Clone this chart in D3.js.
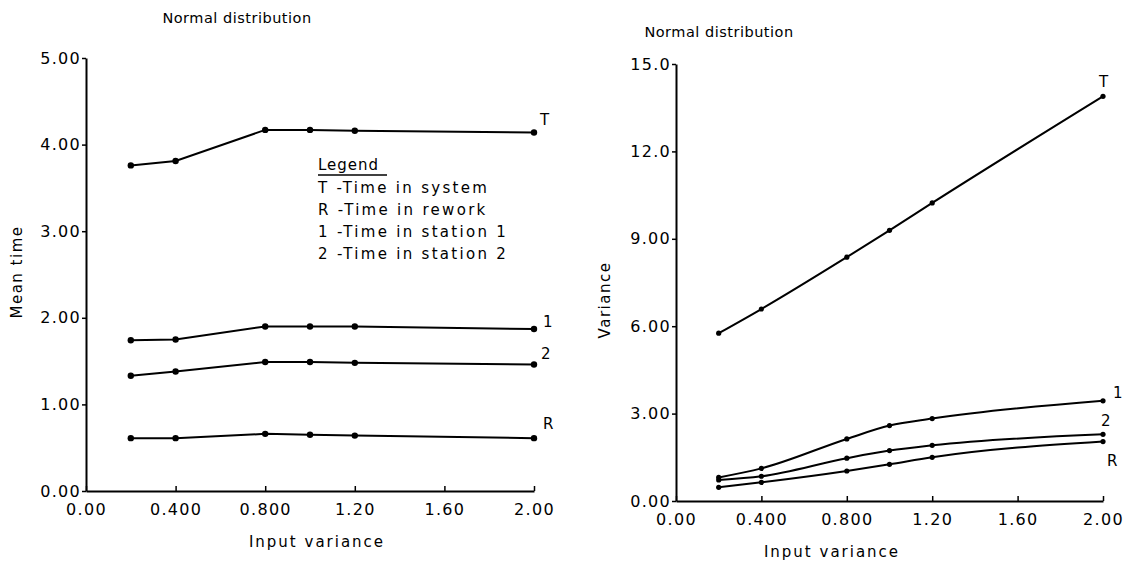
<!DOCTYPE html>
<html><head><meta charset="utf-8">
<script src="https://cdn.jsdelivr.net/npm/d3@7"></script>
<style>
body{margin:0;background:#fff;}
text{font-family:"DejaVu Sans",sans-serif;fill:#000;}
</style></head>
<body><svg id="c" width="1138" height="561"></svg>
<script>
// ---- data ----
const xValues = [0.2, 0.4, 0.8, 1.0, 1.2, 2.0];
const xTickValues = [0, 0.4, 0.8, 1.2, 1.6, 2.0];
const xTickLabels = ["0.00", "0.400", "0.800", "1.20", "1.60", "2.00"];

const meanT = [3.76, 3.81, 4.17, 4.17, 4.16, 4.14];
const mean1 = [1.74, 1.75, 1.90, 1.90, 1.90, 1.87];
const mean2 = [1.33, 1.38, 1.49, 1.49, 1.48, 1.46];
const meanR = [0.61, 0.61, 0.66, 0.65, 0.64, 0.61];
const meanYTicks = [0, 1, 2, 3, 4, 5];
const meanYLabels = ["0.00", "1.00", "2.00", "3.00", "4.00", "5.00"];

const varT = [5.76, 6.59, 8.37, 9.29, 10.23, 13.89];
const var1 = [0.81, 1.12, 2.13, 2.59, 2.83, 3.44];
const var2 = [0.72, 0.85, 1.47, 1.73, 1.91, 2.29];
const varR = [0.47, 0.64, 1.03, 1.26, 1.50, 2.04];
const varYTicks = [0, 3, 6, 9, 12, 15];
const varYLabels = ["0.00", "3.00", "6.00", "9.00", "12.0", "15.0"];

const seriesNames = ["T", "1", "2", "R"];
const legendLines = ["T -Time in system", "R -Time in rework", "1 -Time in station 1", "2 -Time in station 2"];
const titleText = "Normal distribution";

const svg = d3.select("#c");

function panel(opt) {
  const x = d3.scaleLinear().domain([0, 2]).range([opt.x0, opt.x1]);
  const y = d3.scaleLinear().domain([0, opt.ymax]).range([opt.y0, opt.y1]);
  const g = svg.append("g");

  const xa = g.append("g").attr("transform", `translate(0,${opt.y0})`)
    .call(d3.axisBottom(x).tickValues(xTickValues)
      .tickFormat((d, i) => xTickLabels[i]).tickSizeInner(-5).tickSizeOuter(0).tickPadding(13));
  const ya = g.append("g").attr("transform", `translate(${opt.x0},0)`)
    .call(d3.axisLeft(y).tickValues(opt.yTicks)
      .tickFormat((d, i) => opt.yLabels[i]).tickSizeInner(4).tickSizeOuter(0).tickPadding(1));
  [xa, ya].forEach(a => {
    a.select(".domain").attr("stroke", "#000").attr("stroke-width", 2);
    a.selectAll(".tick line").attr("stroke", "#000").attr("stroke-width", 1.5);
    a.selectAll("text").style("font-family", "DejaVu Sans").style("font-size", "16px")
      .style("letter-spacing", "1.3px").attr("fill", "#000");
  });

  const line = d3.line().x((d, i) => x(xValues[i])).y(d => y(d)).curve(opt.curve);
  opt.series.forEach((s, k) => {
    g.append("path").datum(s).attr("d", line).attr("fill", "none")
      .attr("stroke", "#000").attr("stroke-width", 2);
    g.selectAll(null).data(s).enter().append("circle")
      .attr("cx", (d, i) => x(xValues[i])).attr("cy", d => y(d))
      .attr("r", opt.r).attr("fill", "#000");
    const lp = opt.labelPos[k];
    g.append("text").attr("x", x(2) + lp[0]).attr("y", y(s[s.length - 1]) + lp[1])
      .style("font-size", "15px").text(seriesNames[k]);
  });

  g.append("text").attr("x", opt.titleX).attr("y", opt.titleY).attr("text-anchor", "middle")
    .style("font-size", "14.5px").style("letter-spacing", "0.5px").text(titleText);
  g.append("text").attr("x", opt.xlabX).attr("y", opt.y0 + 56).attr("text-anchor", "middle")
    .style("font-size", "15px").style("letter-spacing", "2px").text("Input variance");
  g.append("text").attr("transform", `translate(${opt.ylabX},${opt.ylabY}) rotate(-90)`)
    .attr("text-anchor", "middle").style("font-size", "15px").style("letter-spacing", "1.5px")
    .text(opt.ylabel);
  return {x, y, g};
}

const left = panel({
  x0: 86, x1: 534, y0: 491, y1: 58, ymax: 5,
  yTicks: meanYTicks, yLabels: meanYLabels,
  series: [meanT, mean1, mean2, meanR], curve: d3.curveLinear, r: 3.2,
  labelPos: [[6, -7], [9, -2], [7, -6], [9, -9]],
  titleX: 237, titleY: 23, xlabX: 317, ylabel: "Mean time", ylabX: 22, ylabY: 272
});

const right = panel({
  x0: 676, x1: 1103, y0: 501, y1: 64, ymax: 15,
  yTicks: varYTicks, yLabels: varYLabels,
  series: [varT, var1, var2, varR], curve: d3.curveMonotoneX, r: 2.6,
  labelPos: [[-4, -9], [10, -3], [-2, -8], [4, 24]],
  titleX: 719, titleY: 37, xlabX: 832, ylabel: "Variance", ylabX: 610, ylabY: 300
});

// legend
const lg = left.g.append("g").style("font-size", "15px").style("letter-spacing", "2.3px");
lg.append("text").attr("x", 318).attr("y", 170).style("letter-spacing", "1px").text("Legend");
lg.append("line").attr("x1", 318).attr("x2", 387).attr("y1", 175).attr("y2", 175)
  .attr("stroke", "#000").attr("stroke-width", 1.5);
lg.selectAll(null).data(legendLines).enter().append("text")
  .attr("x", 318).attr("y", (d, i) => 193 + i * 22).text(d => d);
</script></body></html>
